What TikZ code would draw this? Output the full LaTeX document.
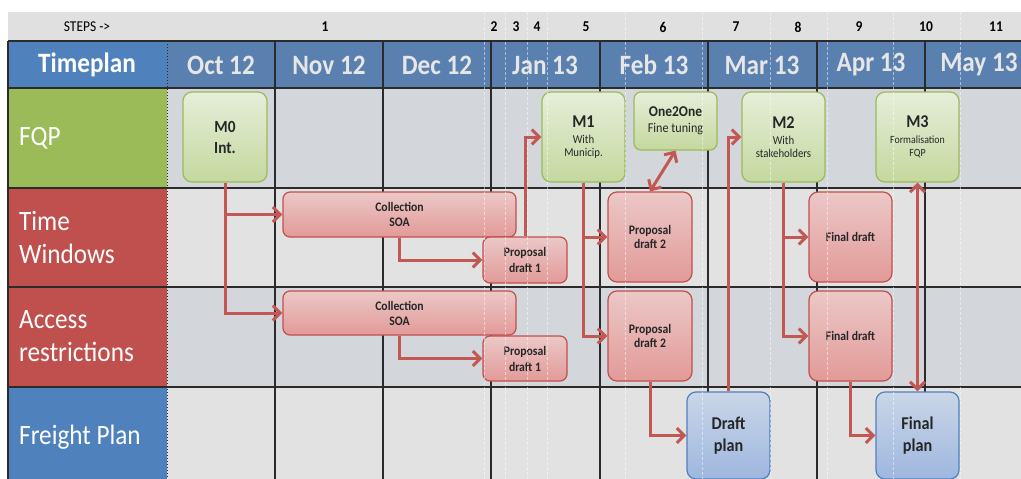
\documentclass[tikz,border=0pt]{standalone}
\usepackage{fontspec}
\setmainfont{Carlito}[FakeStretch=0.9]
\usetikzlibrary{arrows.meta}
\definecolor{stepbg}{HTML}{E0E0E0}
\definecolor{hdrblue}{HTML}{4F81BD}
\definecolor{monblue}{HTML}{5A80B0}
\definecolor{montext}{HTML}{E6E6E6}
\definecolor{rowA}{HTML}{D3D6DB}
\definecolor{rowB}{HTML}{E2E2E2}
\definecolor{lgreen}{HTML}{9BBB59}
\definecolor{lred}{HTML}{C0504D}
\definecolor{lblue}{HTML}{4F81BD}
\definecolor{gridc}{HTML}{2B2B2B}
\definecolor{txt}{HTML}{262626}
\definecolor{gtop}{HTML}{E6EEDA}
\definecolor{gbot}{HTML}{C4D89E}
\definecolor{gborder}{HTML}{9BBB59}
\definecolor{rtop}{HTML}{EBC8C7}
\definecolor{rbot}{HTML}{E29A98}
\definecolor{rborder}{HTML}{C0504D}
\definecolor{btop}{HTML}{CAD6E8}
\definecolor{bbot}{HTML}{9EB7DF}
\definecolor{bborder}{HTML}{4F81BD}
\definecolor{arr}{HTML}{C25753}
\newcommand\fsz[2]{\fontsize{#1}{#2}\selectfont}
\begin{document}
\begin{tikzpicture}[x=1pt,y=-1pt,
  gridline/.style={draw=gridc, line width=1.3pt},
  wdash/.style={draw=white, line width=0.9pt, dash pattern=on 3pt off 2pt, opacity=0.5},
  lab/.style={text=white, font=\fsz{28}{33}, align=left, anchor=west, inner sep=0pt},
  mon/.style={text=montext, font=\fsz{28}{30}\bfseries, inner sep=0pt},
  stp/.style={text=black, font=\fsz{15}{17}\bfseries, inner sep=0pt},
  box/.style={rounded corners=9pt, line width=1.2pt, inner sep=0pt, align=center, text=txt},
  gbox/.style={box, draw=gborder, top color=gtop, bottom color=gbot},
  rbox/.style={box, draw=rborder, top color=rtop, bottom color=rbot},
  bbox/.style={box, draw=bborder, top color=btop, bottom color=bbot},
  flow/.style={draw=arr, line width=3pt, -{Straight Barb[length=7.5pt,width=15pt]}},
  flowtwo/.style={draw=arr, line width=3pt, {Straight Barb[length=7.5pt,width=15pt]}-{Straight Barb[length=7.5pt,width=15pt]}}
]
\useasboundingbox (0,0) rectangle (1021,479);
% background rows
\fill[stepbg] (8,12) rectangle (1021,41);
\fill[hdrblue] (8,41) rectangle (167,88);
\fill[monblue] (167,41) rectangle (1021,88);
\fill[lgreen] (8,88) rectangle (167,188);
\fill[rowA] (167,88) rectangle (1021,188);
\fill[lred] (8,188) rectangle (167,287);
\fill[rowB] (167,188) rectangle (1021,287);
\fill[lred] (8,287) rectangle (167,387);
\fill[rowA] (167,287) rectangle (1021,387);
\fill[lblue] (8,387) rectangle (167,479);
\fill[rowB] (167,387) rectangle (1021,479);
% grid
\foreach \yy in {41,88,188,287,387} \draw[gridline] (8,\yy) -- (1021,\yy);
\foreach \xx in {275,383,491,600,708,817,925} \draw[gridline] (\xx,41) -- (\xx,479);
\draw[gridline] (8,41) -- (8,479);
\draw[draw=gridc, line width=1pt, dotted] (167,41) -- (167,479);
% steps row
\node[text=black, font=\fsz{15}{17}, inner sep=0pt] (steps) at (87,27) {STEPS ->};
\node[stp] (s1) at (325,27) {1};
\node[stp] (s2) at (494,27) {2};
\node[stp] (s3) at (516,27) {3};
\node[stp] (s4) at (537,27) {4};
\node[stp] (s5) at (586,27) {5};
\node[stp] (s6) at (663,27) {6};
\node[stp] (s7) at (736,27) {7};
\node[stp] (s8) at (798,27) {8};
\node[stp] (s9) at (859,27) {9};
\node[stp] (s10) at (926,27) {10};
\node[stp] (s11) at (996,27) {11};
% header
\node[text=white, font=\fsz{28}{30}\bfseries, inner sep=0pt] (tp) at (87,65) {Timeplan};
\node[mon] (oct) at (221,65) {Oct 12};
\node[mon] (nov) at (329,65) {Nov 12};
\node[mon] (dec) at (437,65) {Dec 12};
\node[mon] (jan) at (545,65) {Jan 13};
\node[mon] (feb) at (654,65) {Feb 13};
\node[mon] (mar) at (762,65) {Mar 13};
\node[mon] (apr) at (871,65) {Apr 13};
\node[mon] (may) at (979,65) {May 13};
% row labels
\node[lab] (lfqp) at (19,138) {FQP};
\node[lab] (ltw) at (19,237) {Time\\Windows};
\node[lab] (lar) at (19,336) {Access\\restrictions};
\node[lab] (lfp) at (19,437) {Freight Plan};
% FQP boxes
\node[gbox, minimum width=84pt, minimum height=90pt, font=\fsz{17}{21}\bfseries] (m0) at (225,137) {M0\\Int.};
\node[gbox, minimum width=83pt, minimum height=90pt, font=\fsz{12}{13}] (m1) at (583.5,137) {{\fsz{18}{20}\bfseries M1}\\[3pt]With\\Municip.};
\node[gbox, minimum width=83pt, minimum height=58pt, rounded corners=7pt, font=\fsz{13.5}{16}] (o2o) at (675.5,121) {{\fsz{15}{16}\bfseries One2One}\\Fine tuning};
\node[gbox, minimum width=83pt, minimum height=90pt, font=\fsz{12}{13}] (m2) at (783.5,137) {{\fsz{18}{20}\bfseries M2}\\[3pt]With\\stakeholders};
\node[gbox, minimum width=83pt, minimum height=90pt, font=\fsz{11}{13}] (m3) at (917.5,137) {{\fsz{18}{20}\bfseries M3}\\[3pt]Formalisation\\FQP};
% Time windows
\node[rbox, minimum width=233pt, minimum height=45pt, rounded corners=7pt, font=\fsz{13}{15}\bfseries] (coltw) at (399.5,214.5) {Collection\\SOA};
\node[rbox, minimum width=84pt, minimum height=46pt, rounded corners=7pt, font=\fsz{13}{16}\bfseries] (pd1tw) at (525,260) {Proposal\\draft 1};
\node[rbox, minimum width=84pt, minimum height=90pt, font=\fsz{13}{14}\bfseries] (pd2tw) at (650,237) {Proposal\\draft 2};
\node[rbox, minimum width=83pt, minimum height=90pt, font=\fsz{13}{14}\bfseries] (fdtw) at (850.5,237) {Final draft};
% Access restrictions
\node[rbox, minimum width=233pt, minimum height=44pt, rounded corners=7pt, font=\fsz{13}{15}\bfseries] (colar) at (399.5,313) {Collection\\SOA};
\node[rbox, minimum width=84pt, minimum height=45pt, rounded corners=7pt, font=\fsz{13}{16}\bfseries] (pd1ar) at (525,358.5) {Proposal\\draft 1};
\node[rbox, minimum width=84pt, minimum height=90pt, font=\fsz{13}{14}\bfseries] (pd2ar) at (650,336) {Proposal\\draft 2};
\node[rbox, minimum width=83pt, minimum height=90pt, font=\fsz{13}{14}\bfseries] (fdar) at (850.5,336) {Final draft};
% Freight plan
\node[bbox, minimum width=83pt, minimum height=87pt, font=\fsz{18}{22}\bfseries] (dp) at (728.5,435.5) {Draft\\plan};
\node[bbox, minimum width=83pt, minimum height=87pt, font=\fsz{18}{22}\bfseries] (fp) at (917.5,435.5) {Final\\plan};
% white dashed step separators
\foreach \xx in {484,505,527,547,625,702,770,827,893,960} \draw[wdash] (\xx,12) -- (\xx,479);
% connectors
\draw[flow] (m0.south) |- (coltw.west);
\draw[flow] (m0.south) |- (colar.west);
\draw[flow] (coltw.south) |- (pd1tw.west);
\draw[flow] (colar.south) |- (pd1ar.west);
\draw[flow] (pd1tw.north) |- (m1.west);
\draw[flow] (m1.south) |- (pd2tw.west);
\draw[flow] (m1.south) |- (pd2ar.west);
\draw[flowtwo] (pd2tw.north) -- (o2o.south);
\draw[flow] (pd2ar.south) |- (dp.west);
\draw[flow] (dp.north) |- (m2.west);
\draw[flow] (m2.south) |- (fdtw.west);
\draw[flow] (m2.south) |- (fdar.west);
\draw[flow] (fdar.south) |- (fp.west);
\draw[flowtwo] (fp.north) -- (m3.south);
\end{tikzpicture}
\end{document}
